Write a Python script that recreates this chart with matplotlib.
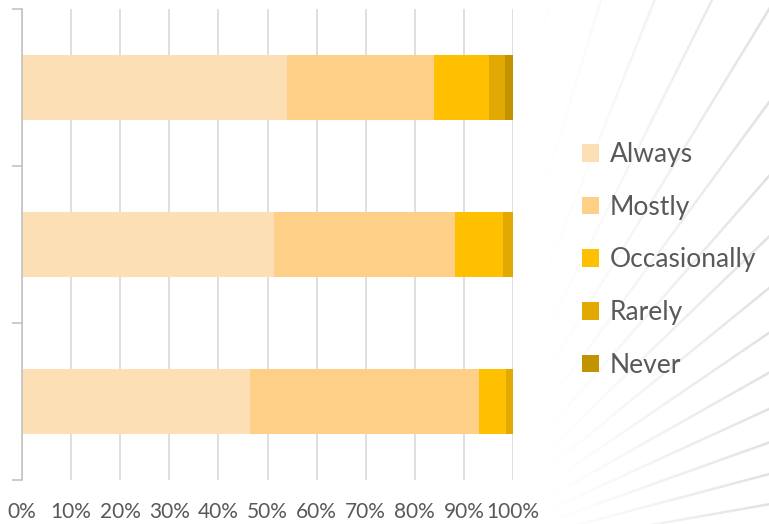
import numpy as np
import matplotlib
matplotlib.use('Agg')
import matplotlib.pyplot as plt
from matplotlib.collections import LineCollection
from matplotlib.patches import Patch

plt.rcParams['font.family'] = ['Lato', 'DejaVu Sans']

# Shares per response (%), bars listed bottom to top
levels = ['Always', 'Mostly', 'Occasionally', 'Rarely', 'Never']
always = [46.4, 51.3, 54.0]
mostly = [46.7, 36.9, 29.9]
occasionally = [5.5, 9.8, 11.3]
rarely = [1.4, 2.0, 3.2]
never = [0.0, 0.0, 1.6]
colors = ['#FDDFB5', '#FDCF87', '#FEC000', '#E1A902', '#C29300']
xticks = np.arange(0, 101, 10)

series = [always, mostly, occasionally, rarely, never]

W, H = 769, 524
fig = plt.figure(figsize=(W / 100, H / 100), dpi=100)
fig.patch.set_facecolor('white')

# decorative faint sunburst on the right
cx, cy = 430, -40
segs, alphas = [], []
for ang in np.linspace(10, 78, 15):
    a = np.deg2rad(ang)
    d = np.array([np.cos(a), np.sin(a)])
    ts = np.linspace(0, 1400, 120)
    pts = np.array([cx, cy]) + ts[:, None] * d
    for p0, p1 in zip(pts[:-1], pts[1:]):
        if p0[0] < 540 or p0[0] > W or p0[1] > H:
            continue
        segs.append([p0 / [W, H], p1 / [W, H]])
        alphas.append(min(1.0, (p0[0] - 540) / 230) ** 1.3)
lc = LineCollection(segs, transform=fig.transFigure, linewidths=1.8,
                    colors=[(0.88, 0.88, 0.88, a) for a in alphas], zorder=0)
fig.add_artist(lc)

ax = fig.add_axes([22 / W, 1 - 480 / H, (513 - 22) / W, (480 - 9) / H])
ax.set_facecolor('none')

y = np.arange(len(always))
left = np.zeros(len(always))
for vals, col, lab in zip(series, colors, levels):
    ax.barh(y, vals, left=left, height=0.41, color=col, label=lab, zorder=3)
    left += np.array(vals)

ax.set_xlim(0, 100)
ax.set_ylim(-0.5, 2.5)
ax.set_xticks(xticks)
ax.set_xticklabels([f'{v}%' for v in xticks])
ax.tick_params(axis='x', length=0, pad=16, labelsize=15, labelcolor='#595959')
ax.set_yticks([-0.5, 0.5, 1.5, 2.5])
ax.set_yticklabels([])
ax.tick_params(axis='y', length=7, width=1.1, color='#BFBFBF')
ax.grid(axis='x', color='#D9D9D9', linewidth=1.2, zorder=0)
for s in ['top', 'right', 'bottom']:
    ax.spines[s].set_visible(False)
ax.spines['left'].set_color('#BFBFBF')
ax.spines['left'].set_linewidth(1.1)
ax.spines['left'].set_zorder(4)

handles = [Patch(facecolor=c, label=l) for c, l in zip(colors, levels)]
fig.legend(handles=handles, loc='center left', bbox_to_anchor=(558 / W, 1 - 260 / H),
           frameon=False, fontsize=19, labelcolor='#595959', handlelength=0.65,
           handleheight=0.65, handletextpad=0.4, labelspacing=1.05)

fig.savefig('out.png', dpi=100)
